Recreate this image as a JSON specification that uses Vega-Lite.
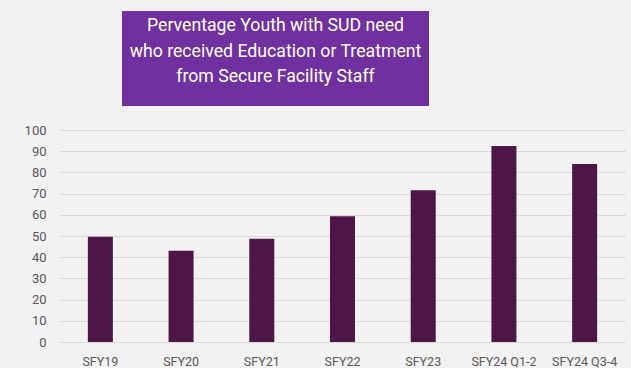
{
  "$schema": "https://vega.github.io/schema/vega-lite/v6.json",
  "background": "#f2f2f2",
  "padding": {"left": 20, "top": 11, "right": 6, "bottom": 0},
  "config": {
    "view": {"stroke": null},
    "font": "Roboto",
    "concat": {"spacing": 18}
  },
  "datasets": {
    "bars": [
      {"period": "SFY19", "pct": 49.6},
      {"period": "SFY20", "pct": 43.1},
      {"period": "SFY21", "pct": 48.7},
      {"period": "SFY22", "pct": 59.3},
      {"period": "SFY23", "pct": 71.6},
      {"period": "SFY24 Q1-2", "pct": 92.4},
      {"period": "SFY24 Q3-4", "pct": 84.0}
    ],
    "heading": [
      {"text": "Perventage Youth with SUD need\nwho received Education or Treatment\nfrom Secure Facility Staff"}
    ]
  },
  "vconcat": [
    {
      "hconcat": [
        {
          "width": 62,
          "height": 95,
          "data": {"values": []},
          "mark": "text",
          "encoding": {}
        },
        {
          "width": 307,
          "height": 95,
          "view": {"fill": "#7030a0", "stroke": null},
          "data": {"name": "heading"},
          "mark": {
            "type": "text",
            "lineBreak": "\n",
            "lineHeight": 25.5,
            "fontSize": 17.7,
            "color": "#ffffff",
            "dy": -32.5
          },
          "encoding": {"text": {"field": "text"}}
        }
      ],
      "spacing": 0
    },
    {
      "width": 565,
      "height": 212,
      "data": {"name": "bars"},
      "mark": {"type": "bar", "color": "#4e1547"},
      "encoding": {
        "x": {
          "field": "period",
          "type": "nominal",
          "sort": null,
          "scale": {"paddingInner": 0.69, "paddingOuter": 0.345},
          "axis": {
            "title": null,
            "labelAngle": 0,
            "ticks": false,
            "domain": false,
            "labelPadding": 13,
            "labelFontSize": 12.5,
            "labelColor": "#595959"
          }
        },
        "y": {
          "field": "pct",
          "type": "quantitative",
          "scale": {"domain": [0, 100]},
          "axis": {
            "title": null,
            "values": [0, 10, 20, 30, 40, 50, 60, 70, 80, 90, 100],
            "ticks": false,
            "domain": false,
            "labelPadding": 14,
            "minExtent": 40,
            "labelFontSize": 13,
            "labelColor": "#595959",
            "gridColor": "#d9d9d9",
            "gridWidth": 1.2
          }
        }
      }
    }
  ]
}
